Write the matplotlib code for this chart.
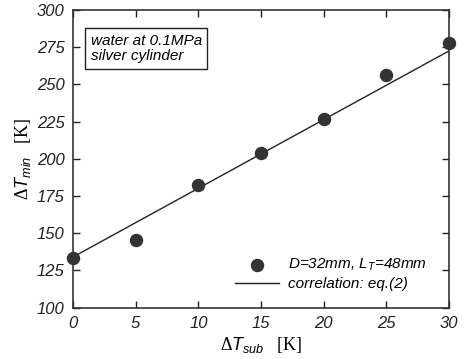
import matplotlib
matplotlib.use("Agg")
import matplotlib.pyplot as plt

plt.rcParams['mathtext.fontset'] = 'custom'
plt.rcParams['mathtext.rm'] = 'Liberation Serif'
plt.rcParams['mathtext.it'] = 'Liberation Sans:italic'
plt.rcParams['mathtext.sf'] = 'Liberation Sans'

dT_sub = [0, 5, 10, 15, 20, 25, 30]
dT_min = [133.3, 145.5, 182.3, 204.1, 226.5, 256.3, 278.0]
corr_x = [0, 30]
corr_y = [134.0, 272.5]
x_ticks = [0, 5, 10, 15, 20, 25, 30]
y_ticks = [100, 125, 150, 175, 200, 225, 250, 275, 300]

fig = plt.figure(figsize=(4.65, 3.59), dpi=100)
ax = fig.add_axes([73/465, 1-307.6/359, 376/465, 297.6/359])

ax.plot(corr_x, corr_y, color='#222222', lw=1.0, label='correlation: eq.(2)', zorder=2)
ax.scatter(dT_sub, dT_min, s=75, color='#333333', label=r'D=32mm, L$_\mathit{T}$=48mm',
           zorder=3, clip_on=False)

ax.set_xlim(0, 30)
ax.set_ylim(100, 300)
ax.set_xticks(x_ticks)
ax.set_yticks(y_ticks)
ax.tick_params(direction='in', top=True, right=True, length=5, width=1,
               labeltop=False, labelright=False, pad=6, colors='#222222')
for lab in ax.get_xticklabels() + ax.get_yticklabels():
    lab.set_fontfamily('Liberation Sans')
    lab.set_fontstyle('italic')
    lab.set_fontsize(12)
for s in ax.spines.values():
    s.set_linewidth(1.2)
    s.set_color('#333333')

ax.set_xlabel(r"$\Delta \mathit{T}_{\mathit{sub}}$   [K]", fontfamily='Liberation Serif',
              fontsize=13, labelpad=3)
ax.set_ylabel(r"$\Delta \mathit{T}_{\mathit{min}}$   [K]", fontfamily='Liberation Serif',
              fontsize=13, labelpad=3)

ax.text(0.047, 0.92, "water at 0.1MPa\nsilver cylinder", transform=ax.transAxes,
        ha='left', va='top', fontfamily='Liberation Sans', fontstyle='italic', fontsize=11,
        linespacing=1.15,
        bbox=dict(boxstyle='square,pad=0.35', fc='white', ec='#222222', lw=1))

h, l = ax.get_legend_handles_labels()
leg = ax.legend(h[::-1], l[::-1], loc='lower right', bbox_to_anchor=(0.97, 0.02),
                frameon=False, prop={'family': 'Liberation Sans', 'style': 'italic', 'size': 11},
                handlelength=2.9, handletextpad=0.6, labelspacing=0.25, borderpad=0.2)

fig.savefig("out.png", dpi=100)
